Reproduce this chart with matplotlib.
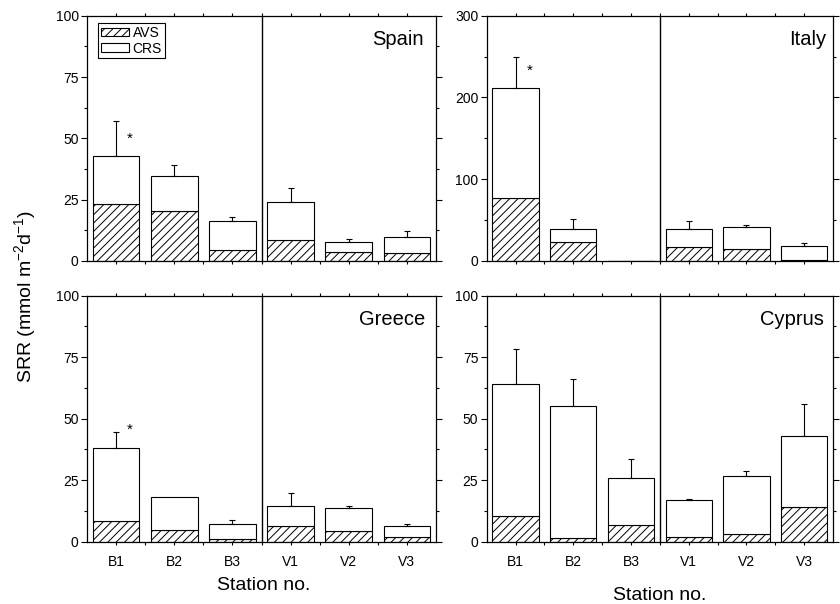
import matplotlib
matplotlib.use("Agg")
import matplotlib.pyplot as plt
from matplotlib.patches import Patch
from matplotlib.ticker import MultipleLocator, FixedLocator

plt.rcParams['font.family'] = ['Liberation Sans', 'DejaVu Sans']
plt.rcParams['mathtext.default'] = 'regular'
plt.rcParams['hatch.linewidth'] = 0.7
plt.rcParams['axes.linewidth'] = 0.9

stations = ['B1', 'B2', 'B3', 'V1', 'V2', 'V3']

spain_total = [42.7, 34.5, 16.2, 24.2, 7.7, 9.8]
spain_avs = [23.2, 20.5, 4.4, 8.4, 3.5, 3.3]
spain_err = [14.2, 4.5, 1.9, 5.6, 1.1, 2.4]

italy_total = [212.0, 38.7, 0.0, 38.7, 41.6, 18.8]
italy_avs = [76.6, 22.8, 0.0, 16.7, 14.7, 1.6]
italy_err = [37.5, 13.1, 0.0, 10.6, 2.8, 2.8]

greece_total = [37.9, 18.3, 7.3, 14.5, 13.8, 6.4]
greece_avs = [8.3, 4.7, 0.9, 6.5, 4.2, 1.8]
greece_err = [6.7, 0.0, 1.5, 5.1, 0.7, 0.9]

cyprus_total = [64.2, 55.0, 26.0, 17.1, 26.6, 42.8]
cyprus_avs = [10.6, 1.4, 6.6, 1.8, 3.0, 14.0]
cyprus_err = [14.0, 11.1, 7.7, 0.2, 2.0, 13.0]

# significance stars (station index, y value); None = no star
spain_star = (0, 50.0)
italy_star = (0, 233.0)
greece_star = (0, 45.5)
cyprus_star = None

panels = [
    ('Spain', spain_total, spain_avs, spain_err, spain_star, 100, 25),
    ('Italy', italy_total, italy_avs, italy_err, italy_star, 300, 100),
    ('Greece', greece_total, greece_avs, greece_err, greece_star, 100, 25),
    ('Cyprus', cyprus_total, cyprus_avs, cyprus_err, cyprus_star, 100, 25),
]

W, H = 840, 604
fig = plt.figure(figsize=(W / 100, H / 100), dpi=100)

rects = [
    (87, 15.7, 436, 261),
    (486.7, 15.7, 833, 261),
    (87, 295.7, 436, 541.7),
    (486.7, 295.7, 833, 541.7),
]
name_dx = [-12.5, -6.5, -11, -9]

x = list(range(1, len(stations) + 1))

for i, (name, total, avs, err, star, ymax, ystep) in enumerate(panels):
    l, t, r, b = rects[i]
    ax = fig.add_axes([l / W, 1 - b / H, (r - l) / W, (b - t) / H])
    crs = [tt - a for tt, a in zip(total, avs)]
    ax.bar(x, avs, width=0.8, color='white', edgecolor='black',
           hatch='////', linewidth=0.8, zorder=2)
    ax.bar(x, crs, bottom=avs, width=0.8, color='white', edgecolor='black',
           linewidth=0.8, zorder=2)
    ex = [xi for xi, e in zip(x, err) if e > 0]
    ey = [tt for tt, e in zip(total, err) if e > 0]
    ee = [e for e in err if e > 0]
    ax.errorbar(ex, ey, yerr=[[0] * len(ee), ee], fmt='none', ecolor='black',
                elinewidth=0.8, capsize=2.0, capthick=0.8, zorder=3)
    if star is not None:
        ax.text(x[star[0]] + 0.24, star[1], '*', ha='center', va='center',
                fontsize=11, zorder=4)
    ax.axvline(3.5, color='black', linewidth=1.0, zorder=4)
    ax.set_xlim(0.5, 6.5)
    ax.set_ylim(0, ymax)
    ax.yaxis.set_major_locator(MultipleLocator(ystep))
    ax.yaxis.set_minor_locator(MultipleLocator(ystep / 2))
    ax.xaxis.set_major_locator(FixedLocator(x))
    ax.xaxis.set_minor_locator(FixedLocator([xi + 0.5 for xi in x[:-1]]))
    ax.tick_params(axis='y', which='major', direction='out', length=4,
                   width=0.8, pad=2, labelsize=10, right=True)
    ax.tick_params(axis='y', which='minor', direction='out', length=2,
                   width=0.8, right=True)
    ax.tick_params(axis='x', which='both', direction='out', length=2.5,
                   width=0.8, top=True, pad=7, labelsize=10)
    ax.set_yticks([v for v in range(0, ymax + 1, ystep)])
    if i >= 2:
        ax.set_xticklabels(stations)
    else:
        ax.set_xticklabels([])
    ax.annotate(name, xy=(1, 1), xycoords='axes fraction',
                xytext=(name_dx[i] * 0.72, -29 * 0.72),
                textcoords='offset points',
                ha='right', va='baseline', fontsize=14.5)
    if i == 0:
        handles = [Patch(facecolor='white', edgecolor='black', hatch='////',
                         linewidth=0.8, label='AVS'),
                   Patch(facecolor='white', edgecolor='black',
                         linewidth=0.8, label='CRS')]
        leg = ax.legend(handles=handles, loc='upper left',
                        bbox_to_anchor=(11 / (r - l), 1 - 7.5 / (b - t)),
                        borderaxespad=0, fontsize=10, frameon=True,
                        fancybox=False, handlelength=2.0, handleheight=0.6,
                        handletextpad=0.3, borderpad=0.2, labelspacing=0.12)
        leg.get_frame().set_edgecolor('black')
        leg.get_frame().set_linewidth(0.8)
        leg.get_frame().set_alpha(1)

fig.text(25 / W, 1 - 296 / H, 'SRR (mmol m$^{-2}$d$^{-1}$)', rotation=90,
         ha='center', va='center', fontsize=14)
fig.text(264 / W, 1 - 585 / H, 'Station no.', ha='center', va='center',
         fontsize=14)
fig.text(660 / W, 1 - 596 / H, 'Station no.', ha='center', va='center',
         fontsize=14)

fig.savefig('out.png', dpi=100)
